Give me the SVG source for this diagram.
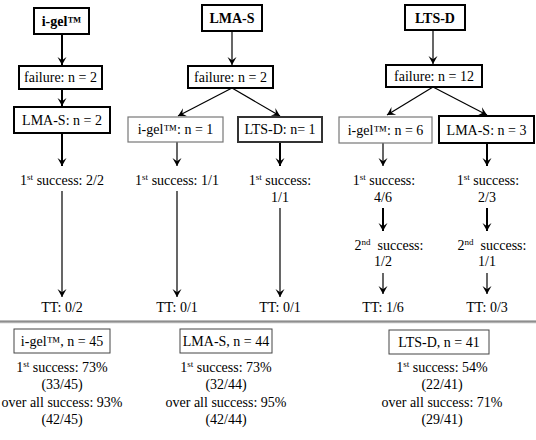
<svg xmlns="http://www.w3.org/2000/svg" width="536" height="440" viewBox="0 0 536 440">
<defs>
<marker id="ah" viewBox="-9 -5 10 10" refX="0" refY="0" markerWidth="10" markerHeight="10" markerUnits="userSpaceOnUse" orient="auto">
<path d="M0,0 L-8,-4.5 L-4.8,0 L-8,4.5 Z" fill="#000"/>
</marker>
<linearGradient id="sep" x1="0" y1="0" x2="0" y2="1">
<stop offset="0" stop-color="#777"/>
<stop offset="0.5" stop-color="#999"/>
<stop offset="1" stop-color="#ddd"/>
</linearGradient>
</defs>
<style>
text{font-family:"Liberation Serif","Times New Roman",serif;font-size:14px;fill:#000;text-anchor:middle}
.b{font-weight:bold}
.sup{font-size:9px}
.box{fill:#fff}
.k{stroke:#000;stroke-width:2}
.g{stroke:#777;stroke-width:1.2}
.d{stroke:#333;stroke-width:2}
.s{stroke:#444;stroke-width:1}
.c line{stroke:#000;marker-end:url(#ah)}
.t{stroke-width:2}
.n{stroke-width:1.2}
</style>
<rect width="536" height="440" fill="#fff"/>
<g class="c" id="connectors">
<line class="t" x1="62" y1="34" x2="62" y2="65"/>
<line class="t" x1="62" y1="89" x2="62" y2="106"/>
<line class="t" x1="62" y1="133" x2="62" y2="166"/>
<line class="n" x1="62" y1="191" x2="62" y2="297"/>
<line class="n" x1="232" y1="31" x2="232" y2="65"/>
<line class="n" x1="232" y1="88" x2="178" y2="116"/>
<line class="n" x1="232" y1="88" x2="280" y2="116"/>
<line class="n" x1="177" y1="142" x2="177" y2="166"/>
<line class="n" x1="177" y1="191" x2="177" y2="297"/>
<line class="t" x1="280" y1="142" x2="280" y2="166"/>
<line class="n" x1="280" y1="208" x2="280" y2="297"/>
<line class="n" x1="433" y1="30" x2="433" y2="64"/>
<line class="n" x1="433" y1="87" x2="387" y2="115"/>
<line class="n" x1="433" y1="87" x2="487" y2="115"/>
<line class="n" x1="383" y1="143" x2="383" y2="166"/>
<line class="t" x1="383" y1="208" x2="383" y2="231"/>
<line class="n" x1="383" y1="273" x2="383" y2="294"/>
<line class="t" x1="487" y1="143" x2="487" y2="166"/>
<line class="t" x1="487" y1="208" x2="487" y2="231"/>
<line class="n" x1="487" y1="273" x2="487" y2="294"/>
</g>
<g id="n-igel"><rect class="box k" x="34" y="8" width="55" height="26"/><text class="b" x="61.5" y="26">i-gel™</text></g>
<g id="n-fail1"><rect class="box k" x="19" y="66" width="83" height="23"/><text x="60.5" y="82">failure: n = 2</text></g>
<g id="n-lmas2"><rect class="box k" x="14" y="107" width="96" height="26"/><text x="62" y="125">LMA-S: n = 2</text></g>
<g id="n-s1"><text x="62" y="185">1<tspan class="sup" dy="-5">st</tspan><tspan dy="5"> success: 2/2</tspan></text></g>
<g id="n-tt1"><text x="62" y="312">TT: 0/2</text></g>

<g id="n-lmas"><rect class="box k" x="202" y="5" width="60" height="26"/><text class="b" x="232" y="23">LMA-S</text></g>
<g id="n-fail2"><rect class="box k" x="188" y="66" width="85" height="22"/><text x="230.5" y="82">failure: n = 2</text></g>
<g id="n-igel1"><rect class="box g" x="128" y="117" width="95" height="25"/><text x="175.5" y="134">i-gel™: n = 1</text></g>
<g id="n-ltsd1"><rect class="box d" x="238" y="117" width="84" height="25"/><text x="280" y="134">LTS-D: n= 1</text></g>
<g id="n-s2"><text x="177" y="185">1<tspan class="sup" dy="-5">st</tspan><tspan dy="5"> success: 1/1</tspan></text></g>
<g id="n-s3"><text x="280" y="185">1<tspan class="sup" dy="-5">st</tspan><tspan dy="5"> success:</tspan></text><text x="280" y="202">1/1</text></g>
<g id="n-tt2"><text x="177" y="312">TT: 0/1</text></g>
<g id="n-tt3"><text x="280" y="312">TT: 0/1</text></g>

<g id="n-ltsd"><rect class="box k" x="405" y="5" width="60" height="25"/><text class="b" x="435" y="23">LTS-D</text></g>
<g id="n-fail3"><rect class="box k" x="386" y="65" width="96" height="22"/><text x="434" y="81">failure: n = 12</text></g>
<g id="n-igel6"><rect class="box g" x="339" y="117" width="93" height="26"/><text x="385.5" y="135">i-gel™: n = 6</text></g>
<g id="n-lmas3"><rect class="box k" x="439" y="116" width="95" height="27"/><text x="486.5" y="135">LMA-S: n = 3</text></g>
<g id="n-s4"><text x="384" y="185">1<tspan class="sup" dy="-5">st</tspan><tspan dy="5"> success:</tspan></text><text x="383" y="202">4/6</text></g>
<g id="n-s5"><text x="488" y="185">1<tspan class="sup" dy="-5">st</tspan><tspan dy="5"> success:</tspan></text><text x="487" y="202">2/3</text></g>
<g id="n-s6"><text x="389" y="250" xml:space="preserve">2<tspan class="sup" dy="-5">nd</tspan><tspan dy="5">  success:</tspan></text><text x="383" y="266">1/2</text></g>
<g id="n-s7"><text x="492" y="250" xml:space="preserve">2<tspan class="sup" dy="-5">nd</tspan><tspan dy="5">  success:</tspan></text><text x="487" y="266">1/1</text></g>
<g id="n-tt4"><text x="383" y="312">TT: 1/6</text></g>
<g id="n-tt5"><text x="487" y="312">TT: 0/3</text></g>

<rect x="0" y="320.5" width="536" height="3" fill="url(#sep)"/>

<g id="n-sum1"><rect class="box s" x="14" y="329" width="96" height="24"/><text x="62" y="346">i-gel™, n = 45</text>
<text x="62" y="372">1<tspan class="sup" dy="-5">st</tspan><tspan dy="5"> success: 73%</tspan></text>
<text x="62" y="389">(33/45)</text><text x="62" y="407">over all success: 93%</text><text x="62" y="424">(42/45)</text></g>
<g id="n-sum2"><rect class="box s" x="180" y="329" width="92" height="24"/><text x="226" y="346">LMA-S, n = 44</text>
<text x="226" y="372">1<tspan class="sup" dy="-5">st</tspan><tspan dy="5"> success: 73%</tspan></text>
<text x="226" y="389">(32/44)</text><text x="226" y="407">over all success: 95%</text><text x="226" y="424">(42/44)</text></g>
<g id="n-sum3"><rect class="box s" x="389" y="330" width="100" height="24"/><text x="439" y="347">LTS-D, n = 41</text>
<text x="442" y="372">1<tspan class="sup" dy="-5">st</tspan><tspan dy="5"> success: 54%</tspan></text>
<text x="442" y="389">(22/41)</text><text x="442" y="407">over all success: 71%</text><text x="442" y="424">(29/41)</text></g>
</svg>
